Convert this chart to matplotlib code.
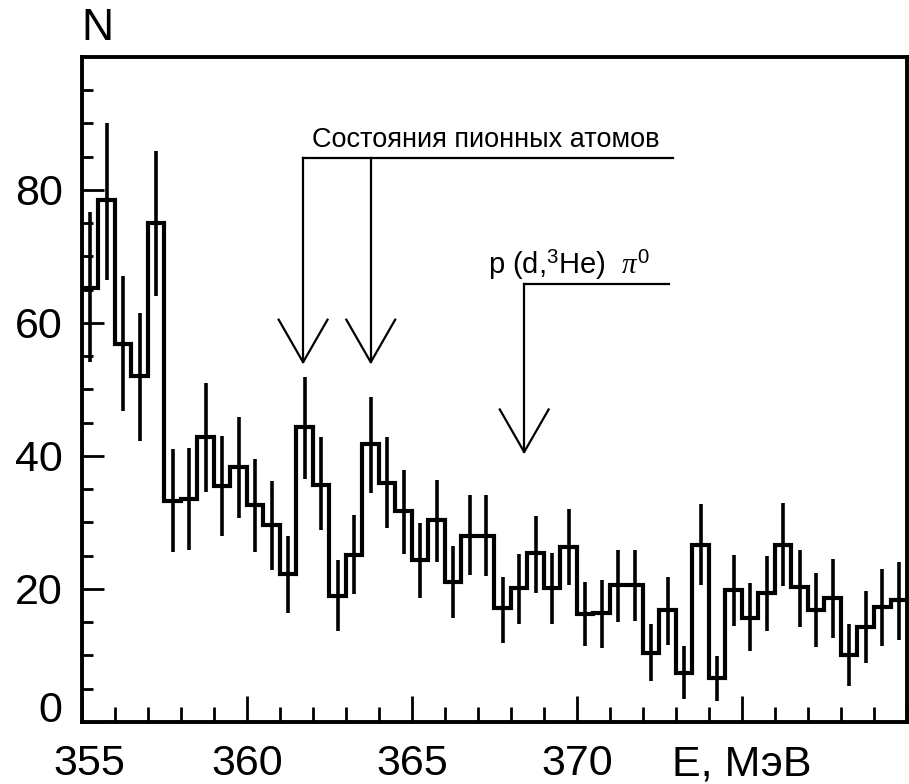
import numpy as np
import matplotlib
matplotlib.use("Agg")
import matplotlib.pyplot as plt
from matplotlib.transforms import ScaledTranslation

plt.rcParams['font.family'] = ['Liberation Sans', 'DejaVu Sans']
plt.rcParams['mathtext.fontset'] = 'custom'
plt.rcParams['mathtext.rm'] = 'Liberation Sans'
plt.rcParams['mathtext.it'] = 'Liberation Serif:italic'

# ---- data ----
bin_start = 355.0
bin_width = 0.5
counts = [65.2, 78.5, 56.9, 52.0, 75.1, 33.3, 33.5, 42.9, 35.5, 38.4,
          32.6, 29.6, 22.2, 44.3, 35.7, 19.0, 25.1, 41.8, 36.0, 31.7,
          24.3, 30.4, 21.0, 28.0, 28.0, 17.2, 20.1, 25.4, 20.2, 26.3,
          16.2, 16.4, 20.6, 20.6, 10.4, 16.9, 7.3, 26.6, 6.6, 19.9,
          15.6, 19.4, 26.6, 20.3, 16.9, 18.7, 10.1, 14.3, 17.3, 18.3]
err_up = [11.5, 11.6, 10.2, 9.5, 10.8, 7.7, 7.7, 8.1, 7.5, 7.4,
          6.9, 6.7, 5.8, 7.6, 7.1, 5.4, 6.0, 7.1, 6.8, 6.2,
          5.6, 6.0, 5.4, 6.1, 6.1, 4.6, 5.2, 5.6, 5.2, 5.7,
          4.9, 5.0, 5.2, 5.3, 4.3, 4.9, 4.1, 6.2, 3.3, 5.2,
          5.3, 5.6, 6.4, 5.5, 5.5, 5.8, 4.7, 5.4, 5.7, 5.8]
err_dn = [11.0, 12.0, 10.2, 9.7, 11.0, 7.8, 7.7, 8.3, 7.5, 7.8,
          7.0, 6.7, 5.8, 7.7, 6.9, 5.3, 5.9, 7.4, 6.8, 6.4,
          5.7, 6.3, 5.4, 5.9, 6.0, 5.3, 5.3, 6.0, 5.4, 5.7,
          4.8, 5.2, 5.5, 5.4, 4.3, 5.3, 3.8, 6.0, 3.5, 5.5,
          5.0, 5.7, 6.1, 6.0, 5.6, 6.0, 4.7, 5.5, 5.9, 5.9]

xtick_values = [355, 360, 365, 370, 375]
xtick_labels = ['355', '360', '365', '370', 'E, МэВ']
ytick_values = [0, 20, 40, 60, 80]
ytick_labels = ['0', '20', '40', '60', '80']

pionic_states = [361.7, 363.75]       # arrow positions (MeV)
pionic_label = 'Состояния пионных атомов'
reaction_energy = [368.4]
reaction_label = r'p (d,$^{3}$He)  $\pi^{0}$'

# ---- figure ----
fig = plt.figure(figsize=(9.09, 7.84), dpi=100)
ax = fig.add_axes([0.0902, 0.0791, 0.9076, 0.8482])

n = len(counts)
edges = bin_start + bin_width * np.arange(n + 1)
centers = 0.5 * (edges[:-1] + edges[1:])
vals = np.array(counts)

ax.stairs(vals, edges, baseline=None, color='black', linewidth=3.0)
ax.errorbar(centers, vals, yerr=[err_dn, err_up], fmt='none',
            ecolor='black', elinewidth=2.6, capsize=0)

ax.set_xlim(355, 380)
ax.set_ylim(0, 100)

# ---- arrows / annotation ----
lw_a = 1.6
head_dx = 0.74
head_dy = 6.4
bracket1_y = 84.8
bracket1_end = 372.9
tip1_y = 54.1
for xs in pionic_states:
    ax.plot([xs, xs], [bracket1_y, tip1_y], color='black', lw=lw_a)
    ax.plot([xs - head_dx, xs, xs + head_dx],
            [tip1_y + head_dy, tip1_y, tip1_y + head_dy], color='black', lw=lw_a)
ax.plot([pionic_states[0], bracket1_end], [bracket1_y, bracket1_y], color='black', lw=lw_a)
ax.text(367.25, 86.4, pionic_label, ha='center', va='baseline', fontsize=19.5)

bracket2_y = 65.9
bracket2_end = 372.8
tip2_y = 40.6
for xs in reaction_energy:
    ax.plot([xs, xs], [bracket2_y, tip2_y], color='black', lw=lw_a)
    ax.plot([xs - head_dx, xs, xs + head_dx],
            [tip2_y + head_dy, tip2_y, tip2_y + head_dy], color='black', lw=lw_a)
    ax.plot([xs, bracket2_end], [bracket2_y, bracket2_y], color='black', lw=lw_a)
ax.text(369.75, 67.4, reaction_label, ha='center', va='baseline', fontsize=21)

# ---- axes styling ----
for s in ax.spines.values():
    s.set_linewidth(2.8)

ax.set_xticks(xtick_values)
ax.set_xticklabels(xtick_labels)
ax.set_xticks(np.arange(355, 381, 1), minor=True)
ax.set_yticks(ytick_values)
ax.set_yticklabels(ytick_labels)
ax.set_yticks(np.arange(0, 100, 5), minor=True)

ax.tick_params(axis='x', which='major', direction='in', length=19, width=2.0,
               labelsize=31, pad=16)
ax.tick_params(axis='x', which='minor', direction='in', length=11, width=2.0)
ax.tick_params(axis='y', which='major', direction='in', length=16, width=2.0,
               labelsize=31, pad=14)
ax.tick_params(axis='y', which='minor', direction='in', length=8, width=2.0)

# raise the "0" label a little as in the original
off = ScaledTranslation(0, 15 / 100, fig.dpi_scale_trans)
lab0 = ax.get_yticklabels()[0]
lab0.set_transform(lab0.get_transform() + off)
# shift "355" slightly right
offx = ScaledTranslation(7 / 100, 0, fig.dpi_scale_trans)
labx = ax.get_xticklabels()[0]
labx.set_transform(labx.get_transform() + offx)

fig.text(97 / 909, 1 - 29 / 784, 'N', ha='center', va='center', fontsize=32)

fig.savefig('out.png', dpi=100)
